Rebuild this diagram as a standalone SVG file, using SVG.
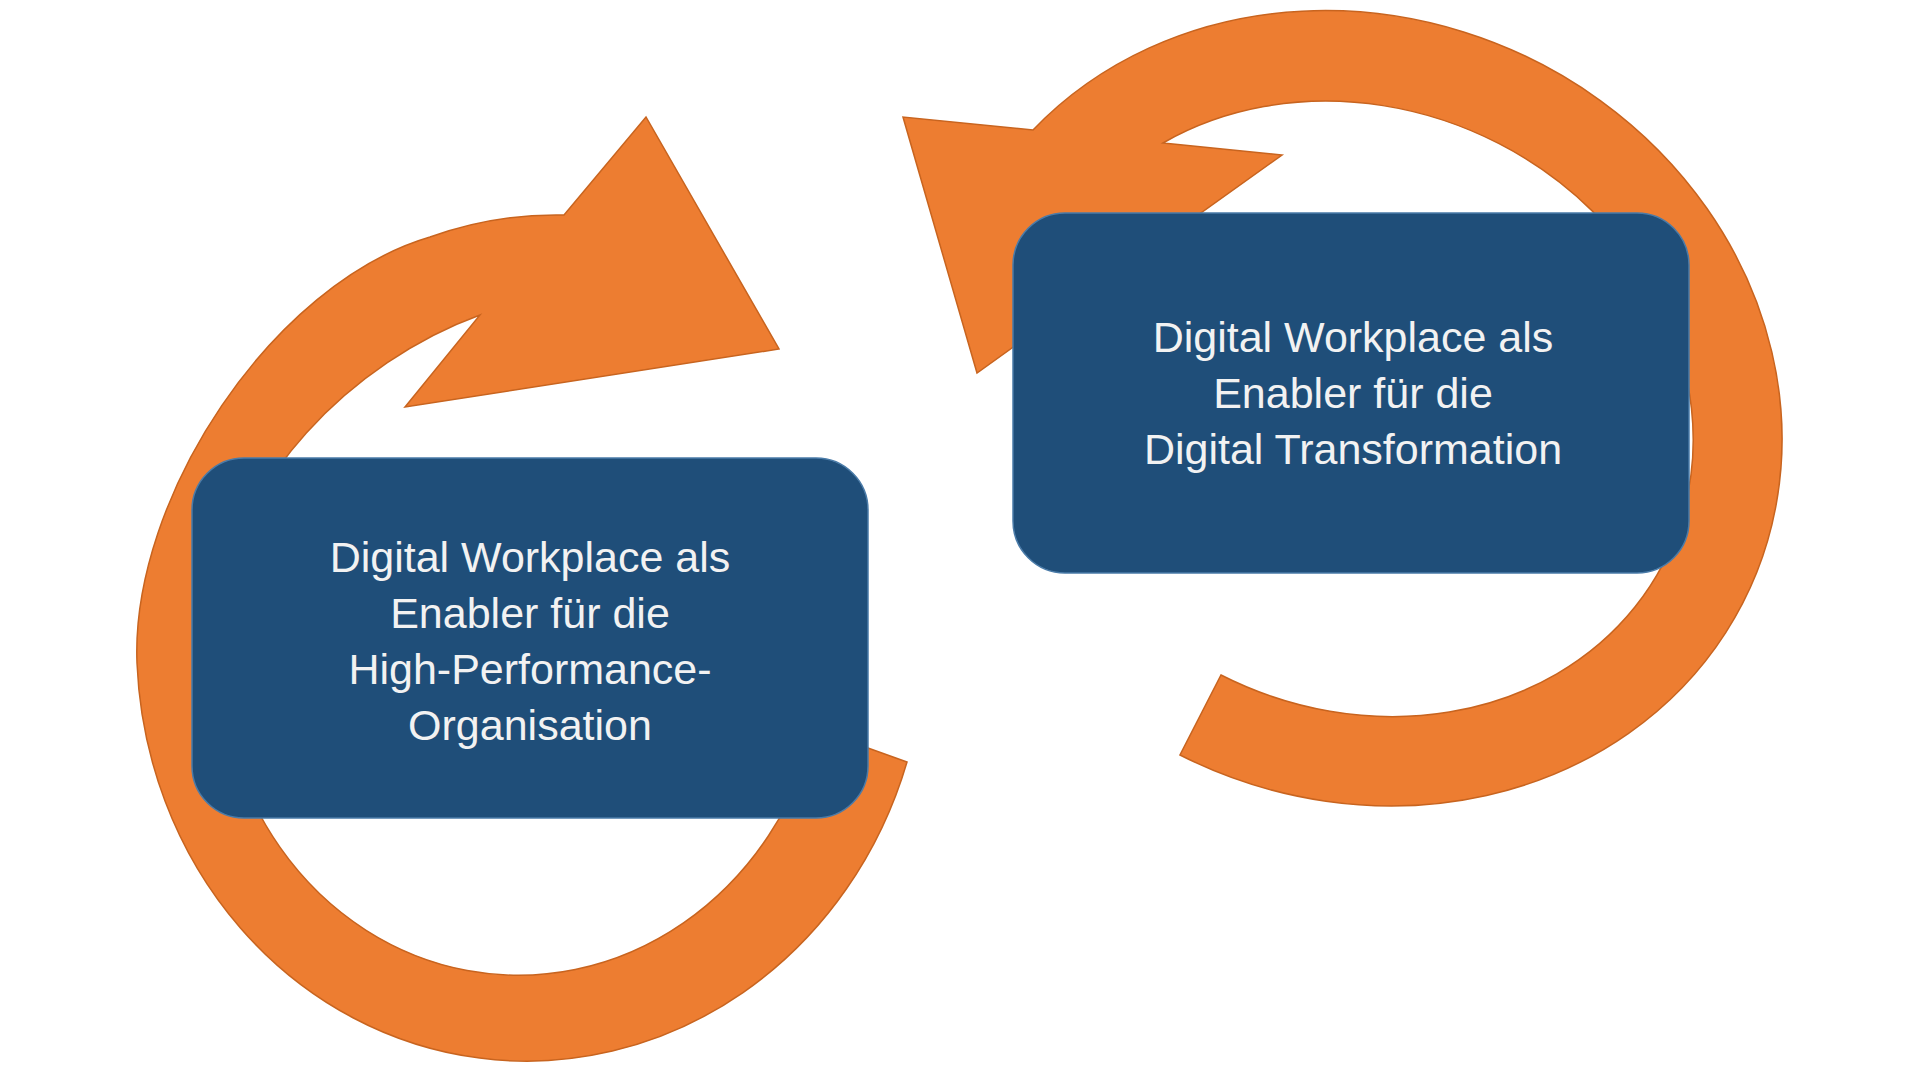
<svg xmlns="http://www.w3.org/2000/svg" width="1920" height="1080" viewBox="0 0 1920 1080">
  <style>
    .ring { fill: #ED7D31; stroke: #C8641F; stroke-width: 1.5; stroke-linejoin: miter; }
    .box { fill: #1F4E79; stroke: #4A7BA8; stroke-width: 1.5; }
    .label { font-family: "Liberation Sans", Arial, sans-serif; font-size: 43px; fill: #F2F2F2; text-anchor: middle; }
  </style>
  <rect x="0" y="0" width="1920" height="1080" fill="#FFFFFF"/>
  <g id="connectors">
    <path id="arrow-left" class="ring" d="M 564,215
      A 394.1 421.4 4.5 0 0 430,237
      C 271.8,283.7 130.6,498.1 137,663
      A 394.1 421.4 4.5 0 0 907,762
      L 815.7,729.2
      A 304.1 331.4 4.5 0 1 219.8,617.4
      C 230.4,482.8 353.1,360.9 480,315
      L 405,407
      L 779,349
      L 646,117
      Z"/>
    <path id="arrow-right" class="ring" d="M 1033,130
      A 431.2 389.8 25.3 1 1 1180,755
      L 1221,675
      A 341.2 299.8 25.3 1 0 1163,143
      L 1282,155
      L 977,373
      L 903,117
      Z"/>
  </g>
  <g id="node-left">
    <rect class="box" x="192" y="458" width="676" height="360" rx="52" ry="52"/>
    <text class="label" x="530" y="572">Digital Workplace als</text>
    <text class="label" x="530" y="628">Enabler für die</text>
    <text class="label" x="530" y="684">High-Performance-</text>
    <text class="label" x="530" y="740">Organisation</text>
  </g>
  <g id="node-right">
    <rect class="box" x="1013" y="213" width="676" height="360" rx="52" ry="52"/>
    <text class="label" x="1353" y="352">Digital Workplace als</text>
    <text class="label" x="1353" y="408">Enabler für die</text>
    <text class="label" x="1353" y="464">Digital Transformation</text>
  </g>
</svg>
